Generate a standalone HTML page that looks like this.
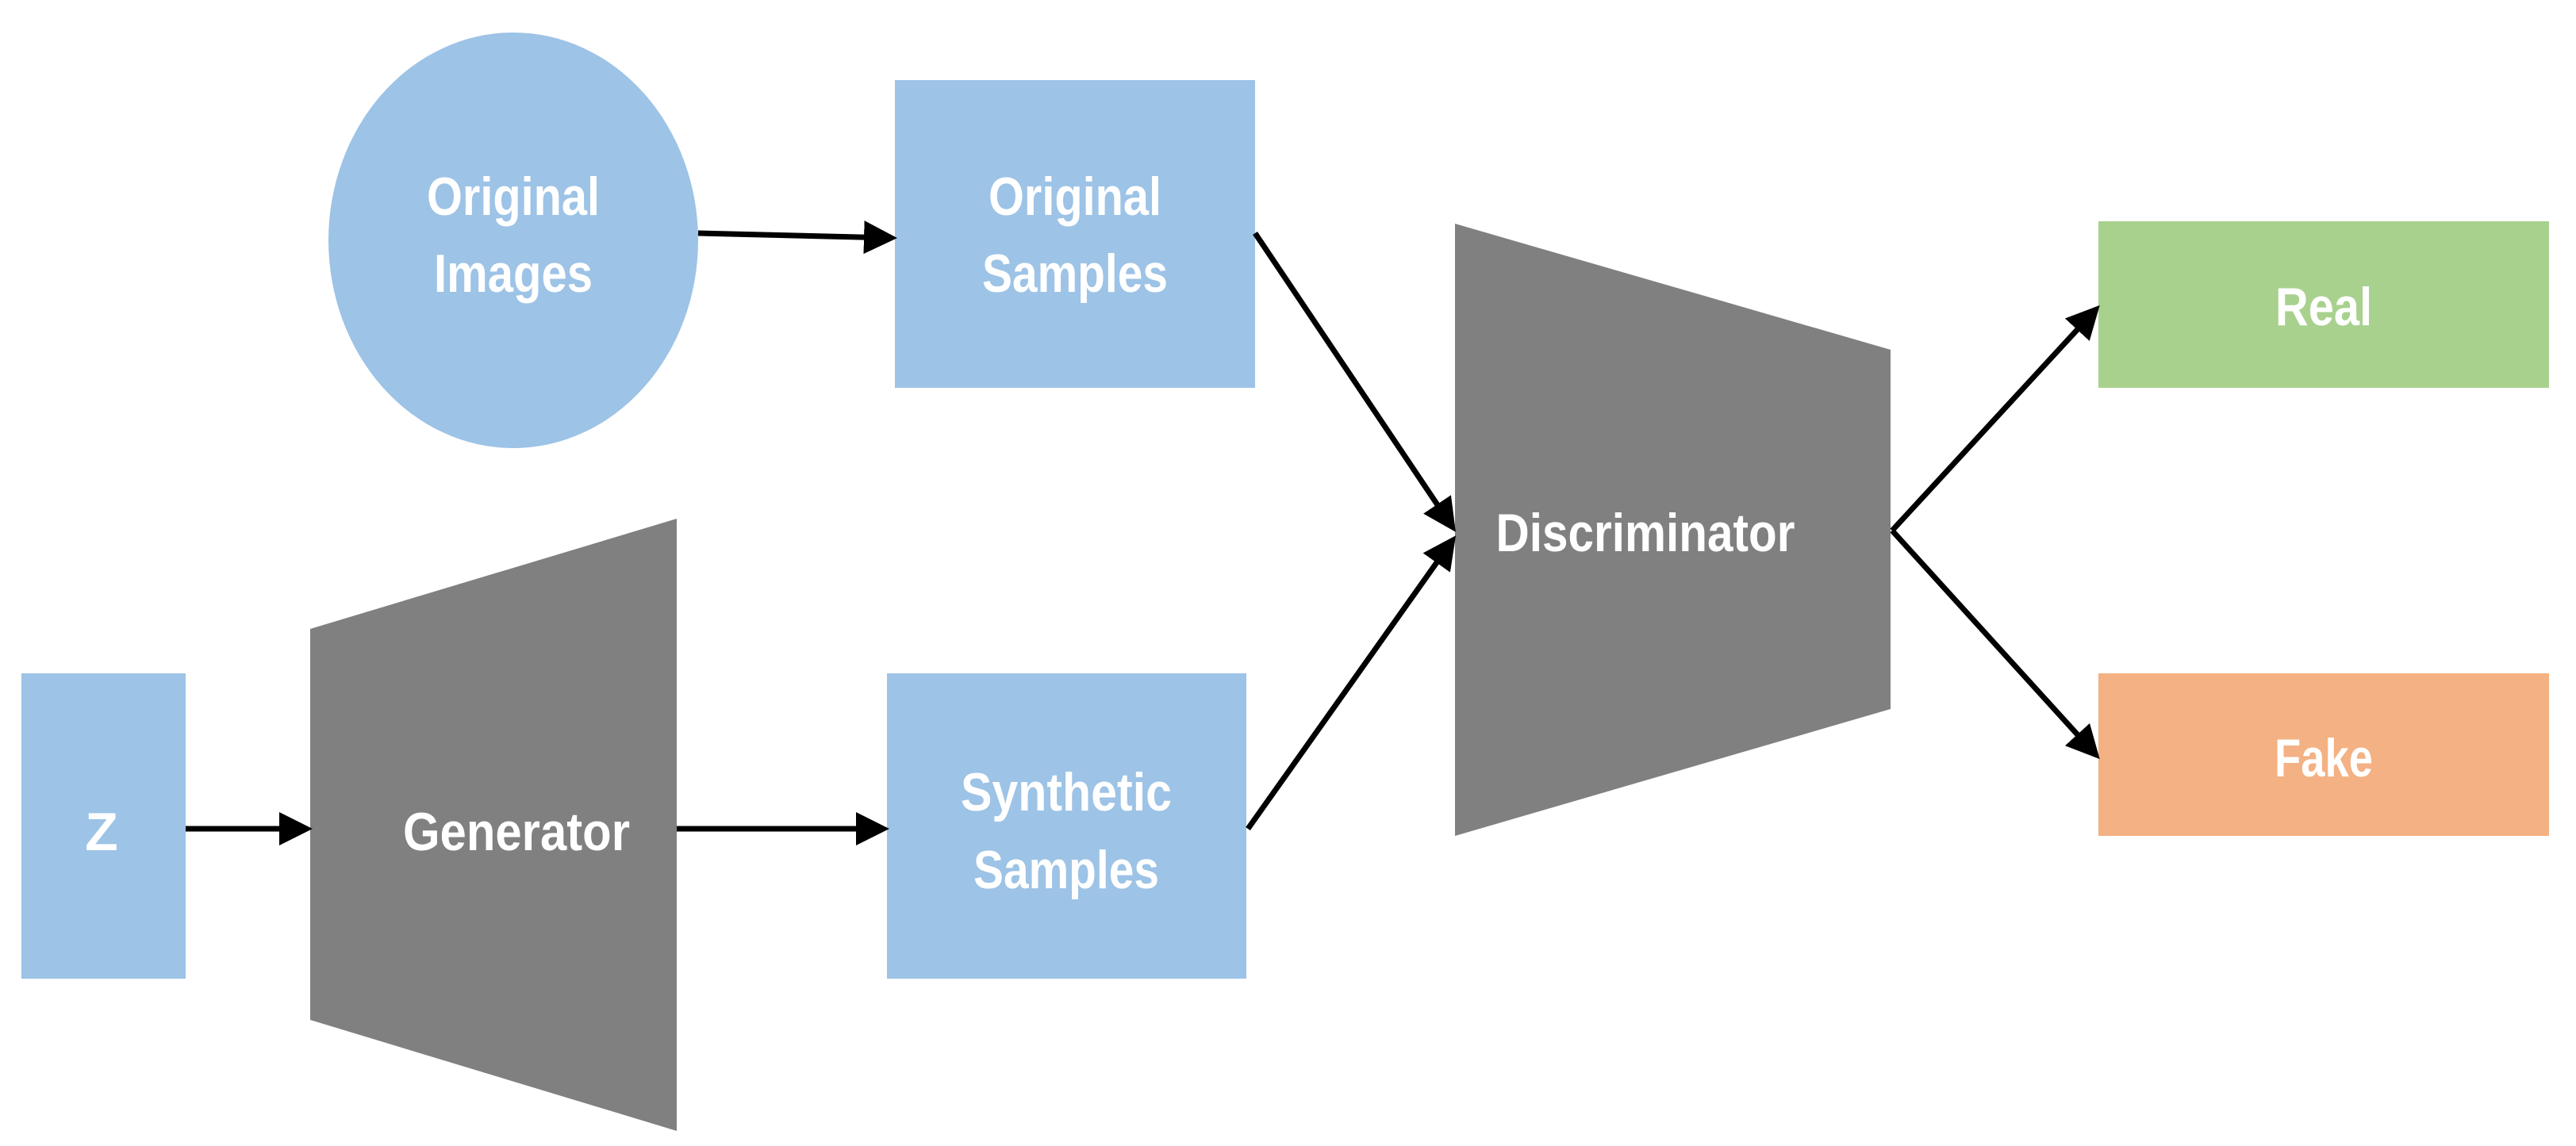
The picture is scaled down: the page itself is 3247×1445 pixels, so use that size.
<!DOCTYPE html>
<html><head><meta charset="utf-8"><style>html,body{margin:0;padding:0;background:#fff}svg{display:block}</style></head>
<body>
<svg width="3247" height="1445" viewBox="0 0 3247 1445" xmlns="http://www.w3.org/2000/svg">
<defs>
<marker id="a" markerWidth="6" markerHeight="6" refX="5" refY="3" orient="auto" markerUnits="strokeWidth">
<path d="M0,0 L6,3 L0,6 z" fill="#000"/>
</marker>
</defs>
<g font-family="'Liberation Sans Narrow','Liberation Sans',sans-serif" font-weight="bold" fill="#fff" font-size="68" text-anchor="middle">
<ellipse cx="647" cy="303" rx="233" ry="262" fill="#9DC3E6"/>
<rect x="1128" y="101" width="454" height="388" fill="#9DC3E6"/>
<rect x="1118" y="849" width="453" height="385" fill="#9DC3E6"/>
<rect x="27" y="849" width="207" height="385" fill="#9DC3E6"/>
<polygon points="391,793 853,654 853,1426 391,1286" fill="#808080"/>
<polygon points="1834,282 2383,441 2383,894 1834,1054" fill="#808080"/>
<rect x="2645" y="279" width="568" height="210" fill="#A9D18E"/>
<rect x="2645" y="849" width="568" height="205" fill="#F4B183"/>

<g stroke="#000" stroke-width="7" fill="none">
<line x1="880" y1="294" x2="1124" y2="300" marker-end="url(#a)"/>
<line x1="1582" y1="294" x2="1831" y2="665" marker-end="url(#a)"/>
<line x1="1573" y1="1045" x2="1831" y2="681" marker-end="url(#a)"/>
<line x1="234" y1="1045" x2="387" y2="1045" marker-end="url(#a)"/>
<line x1="853" y1="1045" x2="1114" y2="1045" marker-end="url(#a)"/>
<line x1="2385" y1="669" x2="2642" y2="390" marker-end="url(#a)"/>
<line x1="2385" y1="669" x2="2642" y2="952" marker-end="url(#a)"/>
</g>

<text x="647" y="271" textLength="218" lengthAdjust="spacingAndGlyphs">Original</text>
<text x="647" y="368" textLength="200" lengthAdjust="spacingAndGlyphs">Images</text>
<text x="1355" y="271" textLength="218" lengthAdjust="spacingAndGlyphs">Original</text>
<text x="1355" y="368" textLength="234" lengthAdjust="spacingAndGlyphs">Samples</text>
<text x="1344" y="1022" textLength="266" lengthAdjust="spacingAndGlyphs">Synthetic</text>
<text x="1344" y="1120" textLength="234" lengthAdjust="spacingAndGlyphs">Samples</text>
<text x="128" y="1072">Z</text>
<text x="651" y="1072" textLength="286" lengthAdjust="spacingAndGlyphs">Generator</text>
<text x="2074" y="695" textLength="377" lengthAdjust="spacingAndGlyphs">Discriminator</text>
<text x="2929" y="410" textLength="122" lengthAdjust="spacingAndGlyphs">Real</text>
<text x="2929" y="979" textLength="124" lengthAdjust="spacingAndGlyphs">Fake</text>
</g>
</svg>
</body></html>
